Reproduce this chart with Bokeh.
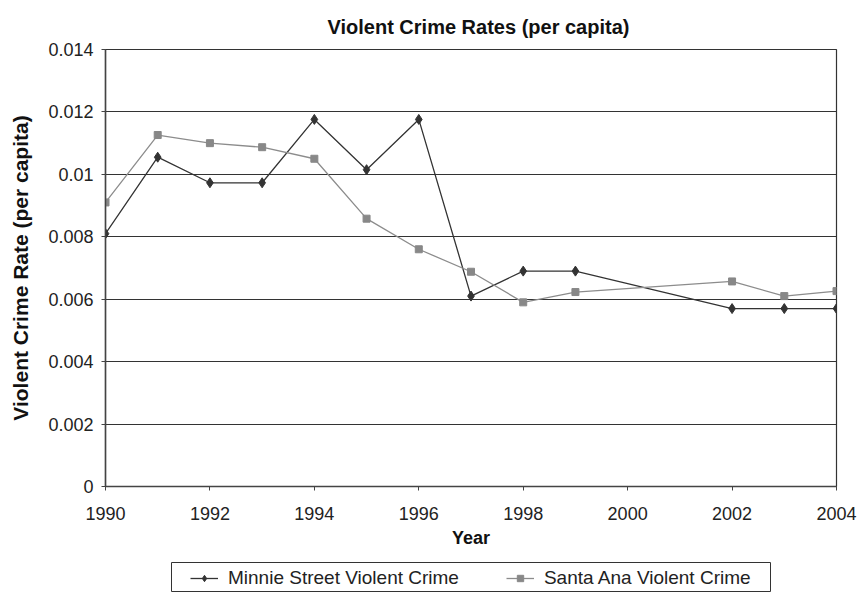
from bokeh.plotting import figure
from bokeh.models import ColumnDataSource, Legend, LegendItem, Range1d, FixedTicker
from bokeh.layouts import column
from bokeh.embed import file_html
from bokeh.resources import INLINE

years_minnie = [1990, 1991, 1992, 1993, 1994, 1995, 1996, 1997, 1998, 1999, 2002, 2003, 2004]
minnie = [0.0081, 0.01055, 0.00973, 0.00973, 0.01176, 0.01015, 0.01176, 0.0061, 0.0069, 0.0069, 0.0057, 0.0057, 0.0057]
years_santa = [1990, 1991, 1992, 1993, 1994, 1995, 1996, 1997, 1998, 1999, 2002, 2003, 2004]
santa = [0.0091, 0.01126, 0.0110, 0.01087, 0.0105, 0.00858, 0.0076, 0.00688, 0.0059, 0.00623, 0.00657, 0.0061, 0.00626]
x_ticks = [1990, 1992, 1994, 1996, 1998, 2000, 2002, 2004]
y_ticks = [0, 0.002, 0.004, 0.006, 0.008, 0.01, 0.012, 0.014]
y_labels = ["0", "0.002", "0.004", "0.006", "0.008", "0.01", "0.012", "0.014"]
series_names = ["Minnie Street Violent Crime", "Santa Ana Violent Crime"]

FONT = "Liberation Sans"
DARK = "#333333"
GREY_LINE = "#8c8c8c"
GREY_MARK = "#888888"

p = figure(width=860, height=560, output_backend="svg", toolbar_location=None,
           x_range=Range1d(1990, 2004), y_range=Range1d(0, 0.014),
           min_border_left=105, min_border_right=24, min_border_top=49, min_border_bottom=74)
p.frame_align = False

p.title.text = "Violent Crime Rates (per capita)"
p.title.text_font = FONT
p.title.text_font_size = "20px"
p.title.text_font_style = "bold"
p.title.align = "left"
p.title.offset = 222
p.title.standoff = 24
p.title.text_color = "#111111"

ms = ColumnDataSource(dict(x=years_minnie, y=minnie))
sa = ColumnDataSource(dict(x=years_santa, y=santa))

p.line("x", "y", source=ms, line_color=DARK, line_width=1.3)
p.scatter("x", "y", source=ms, marker="diamond", size=10, fill_color=DARK, line_color=DARK)
p.line("x", "y", source=sa, line_color=GREY_LINE, line_width=1.3)
p.scatter("x", "y", source=sa, marker="square", size=7, fill_color=GREY_MARK, line_color=GREY_MARK)

p.xaxis.ticker = FixedTicker(ticks=x_ticks)
p.yaxis.ticker = FixedTicker(ticks=y_ticks)
p.yaxis.major_label_overrides = {t: l for t, l in zip(y_ticks, y_labels)}
p.xaxis.minor_tick_line_color = None
p.yaxis.minor_tick_line_color = None
for ax in (p.xaxis, p.yaxis):
    ax.major_label_text_font = FONT
    ax.major_label_text_font_size = "18px"
    ax.major_label_text_color = "#222222"
    ax.axis_label_text_font = FONT
    ax.axis_label_text_font_size = "18px"
    ax.axis_label_text_font_style = "bold"
    ax.axis_label_text_color = "#111111"
    ax.axis_line_color = "#444444"
    ax.axis_line_width = 1.5
    ax.major_tick_line_color = "#444444"
    ax.major_tick_in = 0
    ax.major_tick_out = 4

p.yaxis.axis_label_text_font_size = "21px"
p.xaxis.axis_label = "Year"
p.yaxis.axis_label = "Violent Crime Rate (per capita)"
p.xaxis.major_label_standoff = 16
p.xaxis.axis_label_standoff = 5
p.yaxis.major_label_standoff = 8
p.yaxis.axis_label_standoff = 13

p.xgrid.grid_line_color = None
p.ygrid.grid_line_color = DARK
p.ygrid.grid_line_width = 1

p.outline_line_color = DARK
p.outline_line_width = 1.2
p.background_fill_color = "white"
p.border_fill_color = "white"

# legend strip: its frame outline serves as the legend box
lg = figure(width=860, height=32, output_backend="svg", toolbar_location=None,
            x_range=Range1d(0, 1), y_range=Range1d(0, 1),
            x_axis_location=None, y_axis_location=None,
            min_border_left=171, min_border_right=90, min_border_top=2, min_border_bottom=0)
lg.frame_align = False
lg.xgrid.grid_line_color = None
lg.ygrid.grid_line_color = None
lg.outline_line_color = DARK
lg.outline_line_width = 1
lg.border_fill_color = "white"

r1a = lg.line("x", "y", source=ms, line_color=DARK, line_width=1.3)
r1b = lg.scatter("x", "y", source=ms, marker="diamond", size=10, fill_color=DARK, line_color=DARK)
r2a = lg.line("x", "y", source=sa, line_color=GREY_LINE, line_width=1.3)
r2b = lg.scatter("x", "y", source=sa, marker="square", size=7, fill_color=GREY_MARK, line_color=GREY_MARK)

legend = Legend(items=[
    LegendItem(label=series_names[0], renderers=[r1a, r1b]),
    LegendItem(label=series_names[1], renderers=[r2a, r2b]),
], orientation="horizontal", location=(19, 3))
legend.label_text_font = FONT
legend.label_text_font_size = "19px"
legend.label_text_color = "#222222"
legend.glyph_width = 28
legend.glyph_height = 16
legend.label_height = 16
legend.label_standoff = 10
legend.padding = 0
legend.margin = 0
legend.spacing = 47
legend.border_line_color = None
legend.background_fill_alpha = 0
lg.add_layout(legend, "center")

layout = column(p, lg, spacing=0)
open("out.html", "w").write(file_html(layout, INLINE))
